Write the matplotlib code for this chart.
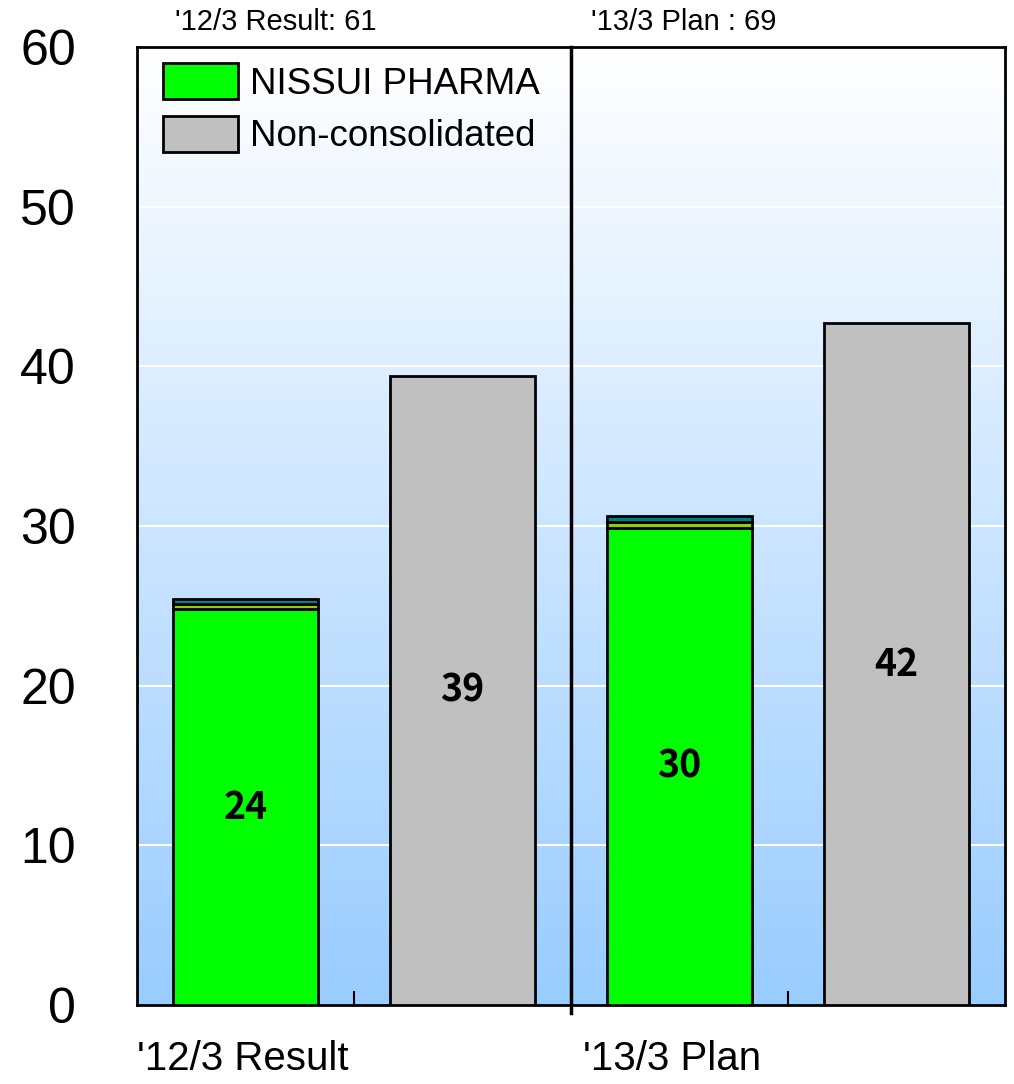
import numpy as np
import matplotlib.pyplot as plt

# values
periods = ["'12/3 Result", "'13/3 Plan"]
totals = ["'12/3 Result: 61", "'13/3 Plan : 69"]
pharma_main = [24.8, 29.9]
pharma_sub1 = [0.3, 0.35]
pharma_sub2 = [0.3, 0.35]
pharma_label = [24, 30]
noncons = [39.4, 42.7]
noncons_label = [39, 42]

fig = plt.figure(figsize=(10.14, 10.84), dpi=100)
ax = fig.add_axes([137/1014, 1-1005/1084, 868/1014, 958/1084])

# gradient background: white on top, light blue at bottom
grad = np.linspace(0, 1, 256).reshape(-1, 1, 1)
top = np.array([1.0, 1.0, 1.0])
bot = np.array([0x99, 0xCC, 0xFF]) / 255
img = (1 - grad) * bot + grad * top
ax.imshow(img, extent=[0, 4, 0, 60], aspect='auto', origin='lower', zorder=0)

ax.set_xlim(0, 4)
ax.set_ylim(0, 60)
for y in [10, 20, 30, 40, 50]:
    ax.axhline(y, color='white', lw=1.5, zorder=1)

w = 0.665
xg = np.array([0.5, 2.5])
xn = np.array([1.5, 3.5])
kw = dict(width=w, edgecolor='black', linewidth=2, zorder=3)
ax.bar(xg, pharma_main, color='#00FF00', label='NISSUI PHARMA', **kw)
ax.bar(xg, pharma_sub1, bottom=pharma_main, color='#99CC00', **kw)
ax.bar(xg, pharma_sub2, bottom=np.add(pharma_main, pharma_sub1), color='#008080', **kw)
ax.bar(xn, noncons, color='#C0C0C0', label='Non-consolidated', **kw)

lab_font = dict(family=['Noto Sans CJK JP', 'DejaVu Sans'], fontsize=27,
                fontweight='bold', ha='center', va='center', zorder=4)
for x, h, v in zip(xg, pharma_main, pharma_label):
    ax.text(x, h / 2, str(v), **lab_font)
for x, h, v in zip(xn, noncons, noncons_label):
    ax.text(x, h / 2, str(v), **lab_font)

# divider between periods
ax.plot([2, 2], [-0.5, 60], color='black', lw=2.5, clip_on=False, zorder=5)

ax.set_xticks([1, 3])
ax.set_xticklabels([])
ax.tick_params(axis='x', direction='in', length=10, width=1.5)
ax.set_yticks(range(0, 61, 10))
ax.tick_params(axis='y', length=0, pad=44, labelsize=36)
for t in ax.get_yticklabels():
    t.set_family('Liberation Sans')
    t.set_ha('right')
for s in ax.spines.values():
    s.set_linewidth(2)

font = 'Liberation Sans'
fig.text(137/1014, 14/1084, periods[0], ha='left', va='baseline',
         fontsize=29, family=font)
fig.text(583/1014, 14/1084, periods[1], ha='left', va='baseline',
         fontsize=29, family=font)
fig.text(175/1014, 1-22/1084, totals[0], ha='left', va='center',
         fontsize=21, family=font)
fig.text(591/1014, 1-22/1084, totals[1], ha='left', va='center',
         fontsize=21, family=font)

leg = ax.legend(loc='upper left', bbox_to_anchor=(26/868, (1005-63)/958), frameon=False,
                prop={'family': font, 'size': 26.5},
                handlelength=2.04, handleheight=1.14, handletextpad=0.33,
                labelspacing=0.38, borderaxespad=0, borderpad=0)

fig.savefig('out.png', dpi=100)
